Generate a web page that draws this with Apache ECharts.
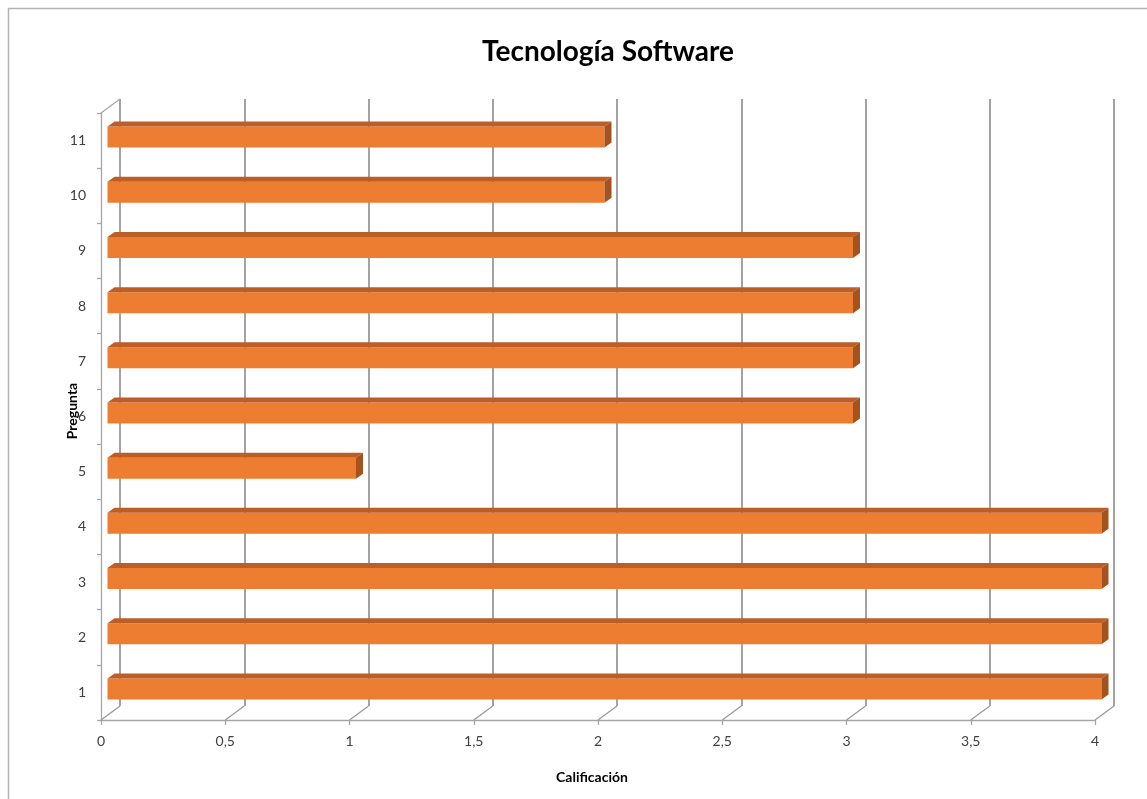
<!DOCTYPE html>
<html>
<head>
<meta charset="utf-8">
<script src="https://cdn.jsdelivr.net/npm/echarts@6/dist/echarts.min.js"></script>
<style>
  html, body { margin: 0; padding: 0; background: #ffffff; }
  #chart { width: 1147px; height: 799px; }
</style>
</head>
<body>
<div id="chart"></div>
<script>
// Question numbers (bottom to top) and their scores
var categories = ['1', '2', '3', '4', '5', '6', '7', '8', '9', '10', '11'];
var scores = [4, 4, 4, 4, 1, 3, 3, 3, 3, 2, 2];
var xTicks = [0, 0.5, 1, 1.5, 2, 2.5, 3, 3.5, 4];
var titleText = 'Tecnología Software';
var xTitle = 'Calificación';
var yTitle = 'Pregunta';

// depth of the pseudo-3D box and of each bar (pixels)
var WALL_DX = 19, WALL_DY = -14;
var BAR_DX = 7, BAR_DY = -5;
var FONT = 'Lato, "Open Sans", sans-serif';

var chart = echarts.init(document.getElementById('chart'), null, { renderer: 'canvas' });

function commaFmt(v) { return String(v).replace('.', ','); }

function renderBar(params, api) {
  var v = api.value(0);
  var idx = api.value(1);
  var s = api.coord([0, idx]);
  var e = api.coord([v, idx]);
  var x0 = s[0] + 6.5, x1 = e[0] + 6.5;
  var yc = s[1] - 3.5;
  var yT = yc - 10.5, yB = yc + 10.5;
  return {
    type: 'group',
    children: [
      { type: 'rect', shape: { x: x0, y: yT, width: x1 - x0, height: yB - yT },
        style: { fill: '#ED7D31' } },
      { type: 'polygon', shape: { points: [[x0, yT], [x1, yT], [x1 + BAR_DX, yT + BAR_DY], [x0 + BAR_DX, yT + BAR_DY]] },
        style: { fill: '#BC5E25' } },
      { type: 'polygon', shape: { points: [[x1, yT], [x1 + BAR_DX, yT + BAR_DY], [x1 + BAR_DX, yB + BAR_DY], [x1, yB]] },
        style: { fill: '#A4521E' } }
    ]
  };
}

// floor lines joining the front axis ticks to the back wall, plus the left wall top edge
function renderFloor(params, api) {
  var v = api.value(0);
  var cs = params.coordSys;
  var px = api.coord([v, 0])[0];
  var yb = cs.y + cs.height;
  var children = [{
    type: 'line',
    shape: { x1: px, y1: yb, x2: px + WALL_DX, y2: yb + WALL_DY },
    style: { stroke: '#9a9a9a', lineWidth: 1.3 }
  }];
  if (params.dataIndex === 0) {
    children.push({
      type: 'line',
      shape: { x1: cs.x, y1: cs.y, x2: cs.x + WALL_DX, y2: cs.y + WALL_DY },
      style: { stroke: '#a6a6a6', lineWidth: 1.3 }
    });
  }
  return { type: 'group', children: children };
}

var front = { left: 101, right: 52, top: 113, bottom: 79 };
var back = {
  left: front.left + WALL_DX, right: front.right - WALL_DX,
  top: front.top + WALL_DY, bottom: front.bottom - WALL_DY
};

var option = {
  backgroundColor: '#ffffff',
  animation: false,
  graphic: [
    { type: 'polyline', shape: { points: [[8.5, 1000], [8.5, 8.5], [1200, 8.5]] },
      style: { stroke: '#b4b4b4', lineWidth: 1.5, fill: null }, silent: true },
    { type: 'text', x: 608, y: 52, style: { text: titleText, font: 'bold 28px ' + FONT,
      fill: '#000000', textAlign: 'center', textVerticalAlign: 'middle' } },
    { type: 'text', x: 592, y: 777, style: { text: xTitle, font: 'bold 14px ' + FONT,
      fill: '#000000', textAlign: 'center', textVerticalAlign: 'middle' } },
    { type: 'text', x: 72, y: 411, rotation: Math.PI / 2, style: { text: yTitle, font: 'bold 14px ' + FONT,
      fill: '#000000', textAlign: 'center', textVerticalAlign: 'middle' } }
  ],
  grid: [
    { left: front.left, right: front.right, top: front.top, bottom: front.bottom },
    { left: back.left, right: back.right, top: back.top, bottom: back.bottom }
  ],
  xAxis: [
    {
      type: 'value', gridIndex: 0, min: 0, max: 4, interval: 0.5,
      axisLine: { show: true, lineStyle: { color: '#a6a6a6', width: 1.3 } },
      axisTick: { show: true, length: 5, lineStyle: { color: '#a6a6a6', width: 1.3 } },
      axisLabel: { color: '#404040', fontSize: 14, fontFamily: FONT, margin: 14,
        formatter: commaFmt },
      splitLine: { show: false }
    },
    {
      type: 'value', gridIndex: 1, min: 0, max: 4, interval: 0.5,
      axisLine: { show: false }, axisTick: { show: false }, axisLabel: { show: false },
      splitLine: { show: true, lineStyle: { color: '#8c8c8c', width: 1.6 } }
    }
  ],
  yAxis: [
    {
      type: 'category', gridIndex: 0, data: categories,
      axisLine: { show: true, lineStyle: { color: '#a6a6a6', width: 1.3 } },
      axisTick: { show: true, length: 4, alignWithLabel: false, lineStyle: { color: '#a6a6a6', width: 1.3 } },
      axisLabel: { color: '#404040', fontSize: 14, fontFamily: FONT, margin: 15 },
      splitLine: { show: false }
    },
    {
      type: 'category', gridIndex: 1, data: categories,
      axisLine: { show: false }, axisTick: { show: false }, axisLabel: { show: false },
      splitLine: { show: false }
    }
  ],
  series: [
    {
      type: 'custom', xAxisIndex: 0, yAxisIndex: 0,
      renderItem: renderFloor,
      data: xTicks.map(function (t) { return [t]; }),
      silent: true, z: 1
    },
    {
      type: 'custom', xAxisIndex: 0, yAxisIndex: 0,
      renderItem: renderBar,
      encode: { x: 0, y: 1 },
      data: scores.map(function (v, i) { return [v, i]; }),
      z: 3
    }
  ]
};

chart.setOption(option);
</script>
</body>
</html>
